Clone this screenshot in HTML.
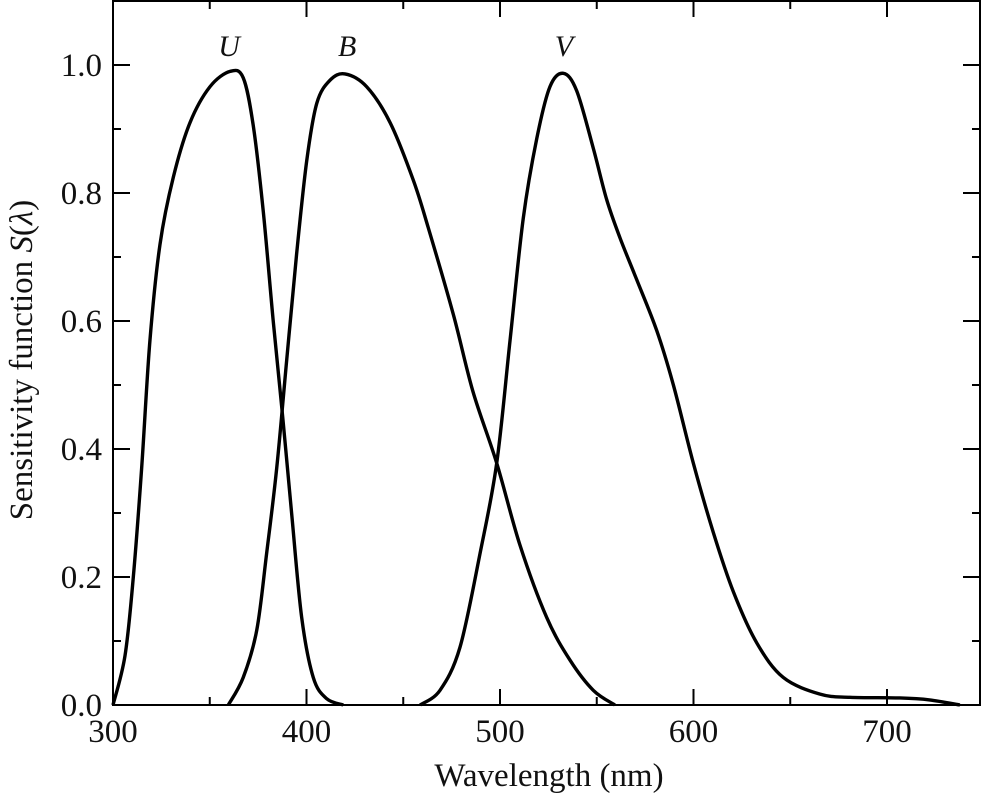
<!DOCTYPE html>
<html><head><meta charset="utf-8"><style>
body{margin:0;background:#fff}
svg text{font-family:"Liberation Serif",serif;fill:#111}
</style></head><body>
<svg id="c" width="984" height="801" viewBox="0 0 984 801" xmlns="http://www.w3.org/2000/svg"></svg>
<script>
const xTicks=[300,400,500,600,700];
const yTicks=[0.0,0.2,0.4,0.6,0.8,1.0];
const uWl=[300,306.2,310.5,314.8,319.1,324.3,331.2,339.8,350.1,360.5,367.3,372.5,377.7,382.8,387.7,392.3,397.5,403.5,410.4,419];
const uVal=[0,0.077,0.20,0.37,0.57,0.72,0.825,0.91,0.966,0.99,0.98,0.905,0.77,0.60,0.45,0.30,0.137,0.043,0.01,0];
const bWl=[359.6,367.3,374.3,379.4,384.6,389.8,394.9,400.1,405.3,412.1,419.9,431.1,443.2,455.2,463,475.9,486,498.3,510.3,524.1,536.2,548.2,559.4];
const bVal=[0,0.043,0.117,0.237,0.37,0.54,0.705,0.85,0.94,0.976,0.986,0.966,0.91,0.82,0.745,0.61,0.49,0.378,0.25,0.137,0.07,0.023,0];
const vWl=[458.7,469,479.3,489.7,498.3,505.2,512,519,525.8,532.7,539.6,548.2,555.1,562,570.6,581,589.6,599.9,610.2,620.6,632.7,646.4,665.4,680.9,706.7,722,737.7];
const vVal=[0,0.023,0.09,0.237,0.378,0.57,0.76,0.885,0.966,0.987,0.96,0.87,0.79,0.73,0.665,0.585,0.50,0.378,0.27,0.177,0.097,0.043,0.017,0.012,0.011,0.008,0];
const labels=[["U",360],["B",421],["V",533]];
const L=113,R=980,T=1,B=705;
const X=w=>L+(w-300)*1.935;
const Y=v=>B-v*640;
const svg=document.getElementById('c');
const NS="http://www.w3.org/2000/svg";
function mk(t,a,name){const e=document.createElementNS(NS,t);for(const k in a)e.setAttribute(k,a[k]);


svg.appendChild(e);return e;}
mk('rect',{x:L,y:T,width:R-L,height:B-T,fill:'none',stroke:'#000','stroke-width':2},'plot-frame');
xTicks.forEach(t=>{const x=X(t);
mk('line',{x1:x,y1:B,x2:x,y2:B-16,stroke:'#000','stroke-width':2},'x-tick');
mk('line',{x1:x,y1:T,x2:x,y2:T+16,stroke:'#000','stroke-width':2},'x-tick-top');
const m=X(t+50);if(m<R){
mk('line',{x1:m,y1:B,x2:m,y2:B-8,stroke:'#000','stroke-width':2},'x-minor-tick');
mk('line',{x1:m,y1:T,x2:m,y2:T+8,stroke:'#000','stroke-width':2},'x-minor-tick-top');}
const tx=mk('text',{x:x,y:742,'font-size':33,'text-anchor':'middle'},'x-tick-label');tx.textContent=t;});
yTicks.forEach(t=>{const y=Y(t);
mk('line',{x1:L,y1:y,x2:L+17,y2:y,stroke:'#000','stroke-width':2},'y-tick');
mk('line',{x1:R,y1:y,x2:R-17,y2:y,stroke:'#000','stroke-width':2},'y-tick-right');
const m=Y(t+0.1);if(m>T+2){
mk('line',{x1:L,y1:m,x2:L+8,y2:m,stroke:'#000','stroke-width':2},'y-minor-tick');
mk('line',{x1:R,y1:m,x2:R-8,y2:m,stroke:'#000','stroke-width':2},'y-minor-tick-right');}
const tx=mk('text',{x:102,y:y+11,'font-size':33,'text-anchor':'end'},'y-tick-label');tx.textContent=t.toFixed(1);});
function path(ws,vs){const p=ws.map((w,i)=>[X(w),Y(vs[i])]);let d='M'+p[0][0]+','+p[0][1];
for(let i=0;i<p.length-1;i++){const p0=p[Math.max(0,i-1)],p1=p[i],p2=p[i+1],p3=p[Math.min(p.length-1,i+2)];
d+=' C'+(p1[0]+(p2[0]-p0[0])/6)+','+(p1[1]+(p2[1]-p0[1])/6)+' '+(p2[0]-(p3[0]-p1[0])/6)+','+(p2[1]-(p3[1]-p1[1])/6)+' '+p2[0]+','+p2[1];}return d;}
mk('path',{d:path(uWl,uVal),fill:'none',stroke:'#000','stroke-width':3.4,'stroke-linejoin':'round'},'u-curve');
mk('path',{d:path(bWl,bVal),fill:'none',stroke:'#000','stroke-width':3.4,'stroke-linejoin':'round'},'b-curve');
mk('path',{d:path(vWl,vVal),fill:'none',stroke:'#000','stroke-width':3.4,'stroke-linejoin':'round'},'v-curve');
labels.forEach(([s,w])=>{const t=mk('text',{x:X(w),y:56,'font-size':30,'font-style':'italic','text-anchor':'middle'},'curve-label-'+s.toLowerCase());t.textContent=s;});
const xt=mk('text',{x:549,y:786,'font-size':33,'text-anchor':'middle'},'x-axis-title');xt.textContent='Wavelength (nm)';
const yt=mk('text',{x:0,y:0,'font-size':33,'text-anchor':'middle',transform:'translate(32,360) rotate(-90)'},'y-axis-title');
yt.innerHTML='Sensitivity function <tspan font-style="italic">S</tspan>(<tspan font-style="italic">λ</tspan>)';
</script>
</body></html>
